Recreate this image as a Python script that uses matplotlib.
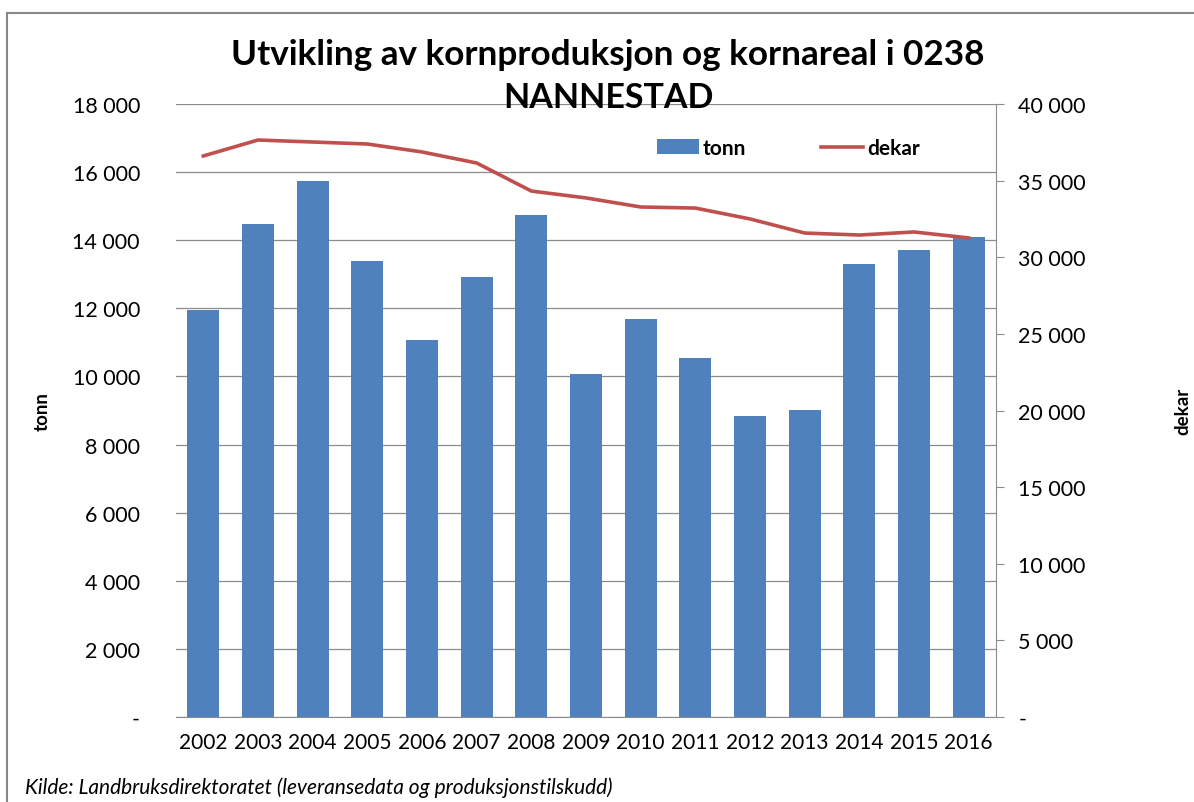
import matplotlib.pyplot as plt
from matplotlib.lines import Line2D
from matplotlib.ticker import FuncFormatter, MultipleLocator

plt.rcParams['font.family'] = ['Lato', 'DejaVu Sans']

years = ['2002', '2003', '2004', '2005', '2006', '2007', '2008', '2009',
         '2010', '2011', '2012', '2013', '2014', '2015', '2016']
tonn = [11950, 14480, 15740, 13390, 11070, 12920, 14740, 10070,
        11690, 10540, 8840, 9020, 13300, 13710, 14090]
dekar = [36610, 37650, 37520, 37390, 36870, 36150, 34320, 33870,
         33280, 33210, 32500, 31580, 31450, 31650, 31260]

bar_col = '#4F81BD'
line_col = '#C0504D'
grid_col = '#8C8C8C'


def fmt(v, pos):
    if abs(v) < 1e-6:
        return '-'
    return '{:,.0f}'.format(v).replace(',', ' ')


fig = plt.figure(figsize=(11.94, 8.03), dpi=100)
ax = fig.add_axes([176 / 1194, 1 - 718 / 803, 820 / 1194, 613 / 803])
ax2 = ax.twinx()

x = range(len(years))
ax.bar(x, tonn, width=0.58, color=bar_col, label='tonn', zorder=2)
ax2.plot(x, dekar, color=line_col, lw=2.6, label='dekar', zorder=3)

ax.set_xlim(-0.5, len(years) - 0.5)
ax.set_ylim(0, 18000)
ax2.set_ylim(0, 40000)
ax.yaxis.set_major_locator(MultipleLocator(2000))
ax2.yaxis.set_major_locator(MultipleLocator(5000))
ax.yaxis.set_major_formatter(FuncFormatter(fmt))
ax2.yaxis.set_major_formatter(FuncFormatter(fmt))
ax.set_xticks(list(x))
ax.set_xticklabels(years)

ax.grid(axis='y', color=grid_col, lw=0.9, zorder=0)
ax.set_axisbelow(True)
for a in (ax, ax2):
    for s in ('top', 'left'):
        a.spines[s].set_visible(False)
    a.spines['bottom'].set_color(grid_col)
    a.spines['right'].set_color(grid_col)
ax.spines['right'].set_visible(False)
ax2.spines['bottom'].set_visible(False)

ax.tick_params(axis='y', length=0, labelsize=15.5, pad=26)
ax.tick_params(axis='x', length=0, labelsize=15, pad=11)
ax2.tick_params(axis='y', length=6, color=grid_col, labelsize=15.5, pad=10)

ax.set_ylabel('tonn', fontsize=13.5, fontweight='bold', labelpad=16)
ax2.set_ylabel('dekar', fontsize=13.5, fontweight='bold', labelpad=64)

h1, l1 = ax.get_legend_handles_labels()
h2, l2 = ax2.get_legend_handles_labels()
ax2.legend(h1 + h2, l1 + l2, loc='upper center', bbox_to_anchor=(0.747, 0.975),
           ncol=2, frameon=False, prop={'weight': 'bold', 'size': 15},
           handlelength=2.0, handletextpad=0.2, columnspacing=3.6)

fig.text(608 / 1194, 1 - 55 / 803, 'Utvikling av kornproduksjon og kornareal i 0238',
         ha='center', va='center', fontsize=25.3, fontweight='bold')
fig.text(608 / 1194, 1 - 98 / 803, 'NANNESTAD',
         ha='center', va='center', fontsize=24.5, fontweight='bold')

fig.text(25 / 1194, 1 - 788 / 803,
         'Kilde: Landbruksdirektoratet (leveransedata og produksjonstilskudd)',
         ha='left', va='center', fontsize=15, style='italic')

fig.add_artist(Line2D([7 / 1194, 1], [1 - 14 / 803, 1 - 14 / 803],
                      transform=fig.transFigure, color='#888888', lw=1.5))
fig.add_artist(Line2D([7 / 1194, 7 / 1194], [0, 1 - 14 / 803],
                      transform=fig.transFigure, color='#888888', lw=1.5))

fig.savefig('out.png', dpi=100)
